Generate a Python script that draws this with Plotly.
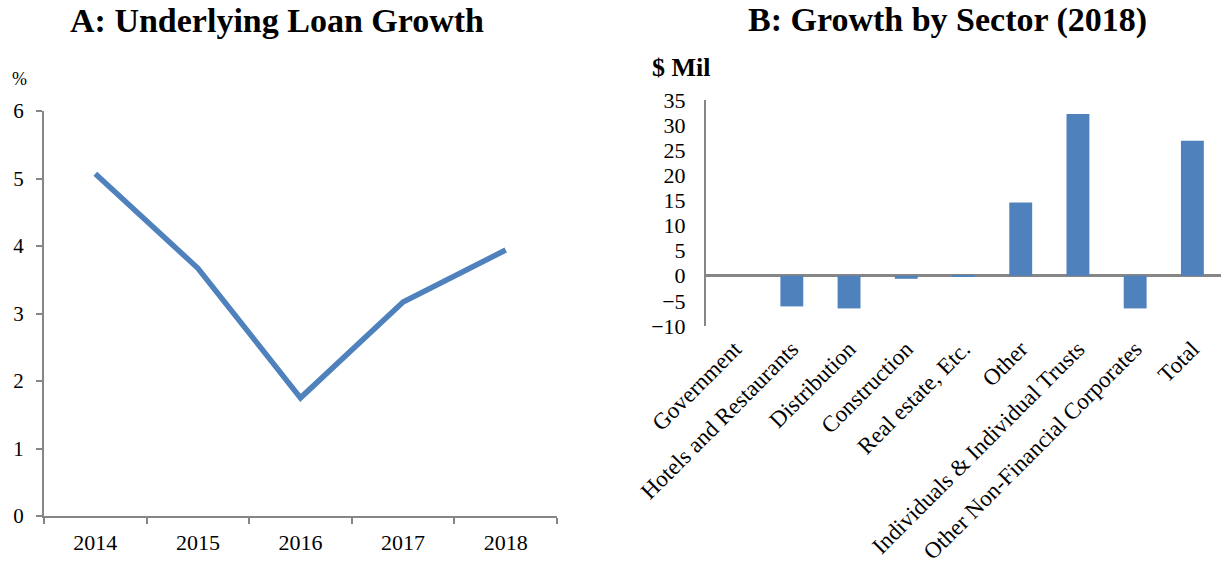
import plotly.graph_objects as go

years = ["2014", "2015", "2016", "2017", "2018"]
loan_growth = [5.07, 3.67, 1.75, 3.17, 3.94]

sectors = ["Government", "Hotels and Restaurants", "Distribution", "Construction",
           "Real estate, Etc.", "Other", "Individuals & Individual Trusts",
           "Other Non-Financial Corporates", "Total"]
sector_growth = [0.0, -6.1, -6.5, -0.6, -0.2, 14.6, 32.2, -6.5, 26.9]

y1_ticks = [0, 1, 2, 3, 4, 5, 6]
y2_ticks = [-10, -5, 0, 5, 10, 15, 20, 25, 30, 35]

BLUE = "#4F81BD"
GRAY = "#868686"
FONT = "Liberation Serif"
W, H = 1225, 567

fig = go.Figure()
fig.add_trace(go.Scatter(x=years, y=loan_growth, mode="lines",
                         line=dict(color=BLUE, width=5.5), xaxis="x", yaxis="y",
                         showlegend=False))
fig.add_trace(go.Bar(x=sectors, y=sector_growth, marker=dict(color=BLUE, line=dict(width=0)),
                     width=0.4, xaxis="x2", yaxis="y2", showlegend=False))


def ann(text, px, py, size):
    return dict(text=text, x=px / W, y=1 - py / H, xref="paper", yref="paper",
                xanchor="center", yanchor="middle", showarrow=False,
                font=dict(size=size, family=FONT, color="black"))


fig.update_layout(
    template="none",
    width=W, height=H,
    margin=dict(l=0, r=0, t=0, b=0, pad=0),
    paper_bgcolor="white", plot_bgcolor="white",
    font=dict(family=FONT, color="black"),
    xaxis=dict(domain=[44 / W, 557 / W], type="category", range=[-0.5, 4.5],
               showline=True, linecolor=GRAY, linewidth=2, ticks="outside",
               tickson="boundaries", ticklen=6, tickcolor=GRAY, tickwidth=2,
               showgrid=False, zeroline=False, tickfont=dict(size=22, family=FONT),
               ticklabelstandoff=6, automargin=False, anchor="y"),
    yaxis=dict(domain=[1 - 516 / H, 1 - 111 / H], range=[0, 6], tickvals=y1_ticks,
               showline=True, linecolor=GRAY, linewidth=2, ticks="outside",
               ticklen=6, tickcolor=GRAY, tickwidth=2, showgrid=False, zeroline=False,
               tickfont=dict(size=21, family=FONT), ticklabelstandoff=8,
               automargin=False, anchor="x"),
    xaxis2=dict(domain=[706 / W, 1221 / W], type="category", range=[-0.5, 8.5],
                showline=False, ticks="", showgrid=False, zeroline=False,
                tickangle=-45, tickfont=dict(size=23, family=FONT),
                ticklabelstandoff=4, automargin=False, anchor="y2"),
    yaxis2=dict(domain=[1 - 326 / H, 1 - 100 / H], range=[-10, 35], tickvals=y2_ticks,
                showline=True, linecolor=GRAY, linewidth=2, ticks="", showgrid=False,
                zeroline=True, zerolinecolor=GRAY, zerolinewidth=2.5,
                tickfont=dict(size=22, family=FONT), ticklabelstandoff=14,
                automargin=False, anchor="x2"),
    annotations=[
        ann("<b>A: Underlying Loan Growth</b>", 277, 20, 34),
        ann("<b>B: Growth by Sector (2018)</b>", 948, 20, 34),
        ann("%", 19, 79, 18),
        ann("<b>$ Mil</b>", 681, 67, 26),
    ],
)

fig.write_html("out.html")
